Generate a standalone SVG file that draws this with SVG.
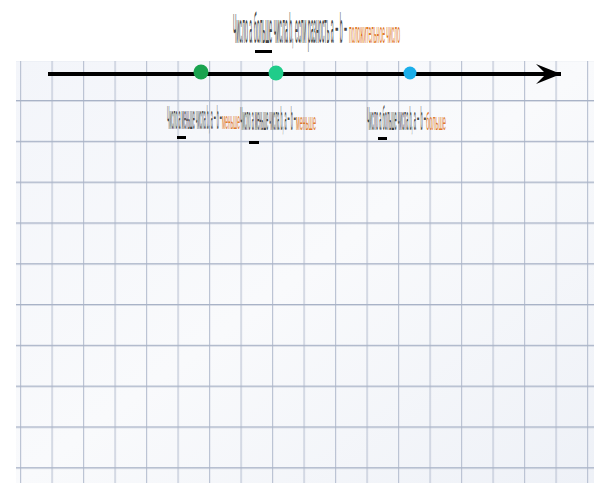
<svg xmlns="http://www.w3.org/2000/svg" width="594" height="485" viewBox="0 0 594 485">
  <defs>
    <pattern id="grid" patternUnits="userSpaceOnUse" x="20" y="100" width="31.5" height="40.8">
      <rect x="0" y="0" width="1.2" height="40.8" fill="#bcc4d4"/>
      <rect x="0" y="0" width="31.5" height="1.4" fill="#a9b3c7"/>
    </pattern>
    <linearGradient id="paper" x1="0" y1="0" x2="1" y2="1">
      <stop offset="0" stop-color="#f3f5fa"/>
      <stop offset="0.5" stop-color="#f9fafc"/>
      <stop offset="1" stop-color="#eef1f7"/>
    </linearGradient>
    <marker id="arrow" markerUnits="userSpaceOnUse" markerWidth="30" markerHeight="24" refX="25" refY="11" orient="auto">
      <path d="M25,11 L0,1 L10,11 L0,21 Z" fill="#000"/>
    </marker>
  </defs>
  <style>
    .g { font-family: "Liberation Sans", Arial, sans-serif; fill: #454545; }
    .o { font-family: "Liberation Sans", Arial, sans-serif; fill: #e07b2c; }
    .bar { fill: #000; }
  </style>
  <rect x="0" y="0" width="594" height="485" fill="#fff"/>
  <rect x="16" y="61" width="578" height="422" fill="url(#paper)"/>
  <rect x="16" y="61" width="578" height="422" fill="url(#grid)"/>

  <g id="title">
    <g transform="translate(233,43) scale(0.1,1)">
      <text class="g" x="0" y="0" font-size="42" textLength="1140" lengthAdjust="spacingAndGlyphs">Число a больше числа b, если разность a − b −</text>
    </g>
    <g transform="translate(349,43) scale(0.1,1)">
      <text class="o" x="0" y="0" font-size="30" textLength="510" lengthAdjust="spacingAndGlyphs">положительное число</text>
    </g>
    <rect class="bar" x="255" y="50" width="17" height="3"/>
  </g>

  <g id="connectors">
    <line x1="48" y1="74" x2="561" y2="74" stroke="#000" stroke-width="4" marker-end="url(#arrow)"/>
  </g>

  <g id="point-1">
    <circle cx="201" cy="72" r="7.5" fill="#1aa34f"/>
  </g>
  <g id="point-2">
    <circle cx="276" cy="73" r="7.5" fill="#20cc8a"/>
  </g>
  <g id="point-3">
    <circle cx="410" cy="73" r="6.5" fill="#1aaeea"/>
  </g>

  <g id="label-1">
    <g transform="translate(167,129) scale(0.09,1)">
      <text class="g" x="0" y="0" font-size="34" textLength="611" lengthAdjust="spacingAndGlyphs">Число a меньше числа b, a − b −</text>
    </g>
    <g transform="translate(222,129) scale(0.09,1)">
      <text class="o" x="0" y="0" font-size="24" textLength="200" lengthAdjust="spacingAndGlyphs">меньше</text>
    </g>
    <rect class="bar" x="177" y="136" width="9" height="3"/>
  </g>
  <g id="label-2">
    <g transform="translate(240,130) scale(0.09,1)">
      <text class="g" x="0" y="0" font-size="34" textLength="622" lengthAdjust="spacingAndGlyphs">Число a меньше числа b, a − b −</text>
    </g>
    <g transform="translate(296,130) scale(0.09,1)">
      <text class="o" x="0" y="0" font-size="24" textLength="222" lengthAdjust="spacingAndGlyphs">меньше</text>
    </g>
    <rect class="bar" x="249" y="141" width="10" height="3"/>
  </g>
  <g id="label-3">
    <g transform="translate(367,130) scale(0.09,1)">
      <text class="g" x="0" y="0" font-size="34" textLength="655" lengthAdjust="spacingAndGlyphs">Число a больше числа b, a − b −</text>
    </g>
    <g transform="translate(426,130) scale(0.09,1)">
      <text class="o" x="0" y="0" font-size="24" textLength="222" lengthAdjust="spacingAndGlyphs">больше</text>
    </g>
    <rect class="bar" x="378" y="137" width="9" height="3"/>
  </g>
</svg>
